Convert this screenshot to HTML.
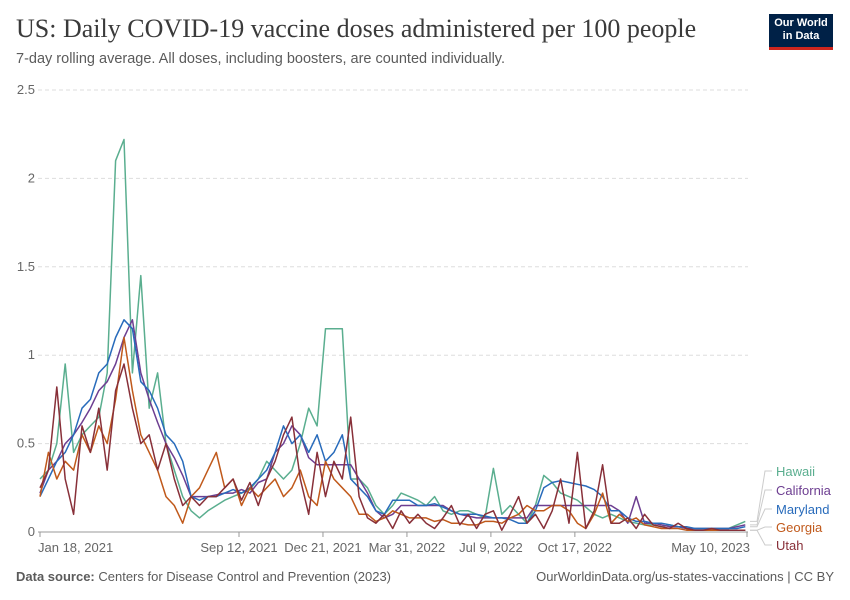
<!DOCTYPE html>
<html><head><meta charset="utf-8"><style>
body{margin:0;background:#fff;font-family:"Liberation Sans",sans-serif;}
#wrap{position:relative;width:850px;height:600px;overflow:hidden;}
.title{position:absolute;left:16px;top:14px;font-family:"Liberation Serif",serif;font-size:26px;color:#3a3a3a;}
.sub{position:absolute;left:16px;top:51px;font-size:14.5px;color:#5b5b5b;}
.logo{position:absolute;left:769px;top:14px;width:64px;height:36px;background:#002147;border-bottom:3px solid #ce261e;color:#fff;font-size:11px;font-weight:bold;text-align:center;line-height:13px;padding-top:3px;box-sizing:border-box;}
.foot{position:absolute;top:569px;font-size:13px;color:#5b5b5b;}
</style></head><body>
<div id="wrap">
<div class="title">US: Daily COVID-19 vaccine doses administered per 100 people</div>
<div class="sub">7-day rolling average. All doses, including boosters, are counted individually.</div>
<div class="logo">Our World<br>in Data</div>
<svg id="chart" width="850" height="600" style="position:absolute;left:0;top:0"></svg>
<div class="foot" style="left:16px"><b>Data source:</b> Centers for Disease Control and Prevention (2023)</div>
<div class="foot" style="right:16px">OurWorldinData.org/us-states-vaccinations | CC BY</div>
</div>
<script>
const days=[];for(let d=0;d<=840;d+=10)days.push(d);
const hawaii=[0.30,0.35,0.50,0.95,0.45,0.55,0.60,0.65,0.90,2.10,
2.22,0.90,1.45,0.70,0.90,0.50,0.35,0.20,0.12,0.08,
0.12,0.15,0.18,0.20,0.22,0.24,0.30,0.40,0.35,0.30,
0.35,0.50,0.70,0.60,1.15,1.15,1.15,0.30,0.30,0.25,
0.15,0.10,0.15,0.22,0.20,0.18,0.15,0.20,0.12,0.10,
0.12,0.12,0.10,0.08,0.36,0.10,0.15,0.10,0.05,0.15,
0.32,0.28,0.22,0.20,0.18,0.14,0.10,0.08,0.10,0.08,
0.06,0.05,0.04,0.04,0.03,0.04,0.03,0.02,0.02,0.02,
0.02,0.02,0.02,0.04,0.06];
const california=[0.22,0.35,0.40,0.50,0.55,0.62,0.70,0.80,0.85,0.95,
1.10,1.20,0.90,0.75,0.62,0.50,0.42,0.32,0.20,0.20,
0.20,0.21,0.22,0.22,0.24,0.22,0.28,0.30,0.45,0.50,
0.60,0.55,0.42,0.38,0.38,0.38,0.38,0.38,0.30,0.22,
0.12,0.08,0.10,0.15,0.15,0.15,0.15,0.15,0.15,0.12,
0.10,0.09,0.08,0.08,0.08,0.08,0.08,0.08,0.08,0.15,
0.15,0.15,0.15,0.15,0.15,0.15,0.15,0.15,0.15,0.12,
0.05,0.20,0.05,0.05,0.04,0.03,0.03,0.02,0.02,0.02,
0.02,0.02,0.02,0.03,0.04];
const maryland=[0.20,0.30,0.40,0.45,0.55,0.70,0.75,0.90,0.95,1.10,
1.20,1.15,0.85,0.80,0.70,0.55,0.50,0.40,0.20,0.18,
0.20,0.20,0.22,0.24,0.22,0.25,0.30,0.35,0.45,0.60,
0.50,0.55,0.45,0.55,0.40,0.45,0.55,0.30,0.25,0.20,
0.12,0.10,0.18,0.18,0.18,0.15,0.15,0.16,0.14,0.12,
0.10,0.10,0.10,0.09,0.08,0.08,0.07,0.05,0.05,0.12,
0.25,0.28,0.29,0.28,0.27,0.26,0.24,0.20,0.12,0.12,
0.08,0.06,0.06,0.05,0.05,0.04,0.03,0.03,0.02,0.02,
0.02,0.02,0.02,0.02,0.03];
const georgia=[0.20,0.45,0.30,0.40,0.35,0.55,0.45,0.60,0.50,0.75,
1.10,0.80,0.55,0.45,0.35,0.20,0.15,0.05,0.20,0.25,
0.35,0.45,0.25,0.30,0.15,0.25,0.20,0.25,0.30,0.20,
0.25,0.35,0.20,0.15,0.40,0.30,0.25,0.20,0.10,0.10,
0.06,0.08,0.12,0.10,0.08,0.08,0.08,0.06,0.07,0.05,
0.05,0.04,0.04,0.06,0.06,0.05,0.08,0.10,0.15,0.12,
0.12,0.15,0.15,0.12,0.05,0.02,0.10,0.22,0.05,0.10,
0.06,0.08,0.04,0.03,0.02,0.02,0.02,0.01,0.01,0.01,
0.01,0.01,0.01,0.01,0.01];
const utah=[0.25,0.35,0.82,0.30,0.10,0.60,0.45,0.70,0.35,0.80,
0.95,0.70,0.50,0.55,0.35,0.50,0.30,0.15,0.20,0.15,
0.20,0.20,0.25,0.30,0.18,0.28,0.15,0.30,0.40,0.55,
0.65,0.30,0.10,0.45,0.20,0.40,0.30,0.65,0.20,0.08,
0.05,0.10,0.02,0.12,0.05,0.10,0.05,0.02,0.08,0.15,
0.04,0.10,0.02,0.10,0.12,0.01,0.10,0.20,0.05,0.10,
0.02,0.12,0.30,0.05,0.45,0.02,0.12,0.38,0.05,0.05,
0.08,0.02,0.10,0.04,0.03,0.02,0.05,0.02,0.01,0.01,
0.02,0.01,0.01,0.01,0.01];
const yTicks=[0,0.5,1,1.5,2,2.5];
const yTickLabels=["0","0.5","1","1.5","2","2.5"];
const xTickDays=[0,237,337,437,537,637,842];
const xTickLabels=["Jan 18, 2021","Sep 12, 2021","Dec 21, 2021","Mar 31, 2022","Jul 9, 2022","Oct 17, 2022","May 10, 2023"];
const seriesNames=["Hawaii","California","Maryland","Georgia","Utah"];
const seriesColors=["#5aae8f","#6d3e91","#286bbb","#c0591b","#883039"];
const seriesData=[hawaii,california,maryland,georgia,utah];
const legendY=[476,495,514,532,550];

const NS="http://www.w3.org/2000/svg";
const svg=document.getElementById('chart');
const X0=40,X1=747,Y0=532,Y1=90;
const xs=d=>X0+d/842*(X1-X0);
const ys=v=>Y0-v/2.5*(Y0-Y1);
function mk(t,a){const e=document.createElementNS(NS,t);for(const k in a)e.setAttribute(k,a[k]);svg.appendChild(e);return e;}
yTicks.forEach((v,i)=>{
  if(v>0){const g=mk('line',{x1:38,x2:748,y1:ys(v),y2:ys(v),stroke:'#ddd','stroke-dasharray':'4,3'});
  
  }
  const t=mk('text',{x:35,y:ys(v)+4,'text-anchor':'end','font-size':13,fill:'#666','font-family':'Liberation Sans,sans-serif'});
  t.textContent=yTickLabels[i];
  
  
});
const ax=mk('line',{x1:38,x2:748,y1:Y0,y2:Y0,stroke:'#999'});


xTickDays.forEach((d,i)=>{
  const tk=mk('line',{x1:xs(d),x2:xs(d),y1:Y0,y2:Y0+5,stroke:'#999'});
  
  
  const anchor=i==0?'start':(i==xTickDays.length-1?'end':'middle');
  const t=mk('text',{x:i==0?38:(i==xTickDays.length-1?750:xs(d)),y:552,'text-anchor':anchor,'font-size':13,fill:'#666','font-family':'Liberation Sans,sans-serif'});
  t.textContent=xTickLabels[i];
  
  
});
seriesData.forEach((arr,si)=>{
  const pts=arr.map((v,i)=>xs(days[i]).toFixed(1)+','+ys(v).toFixed(1)).join(' ');
  const p=mk('polyline',{points:pts,fill:'none',stroke:seriesColors[si],'stroke-width':1.5,'stroke-linejoin':'round'});
  
  
  const last=arr[arr.length-1];
  const c=mk('polyline',{points:`${X1+3},${ys(last)} ${X1+10},${ys(last)} ${X1+18},${legendY[si]-5} ${X1+25},${legendY[si]-5}`,fill:'none',stroke:'#ccc','stroke-width':1});
  
  
  const t=mk('text',{x:776,y:legendY[si],'font-size':13,fill:seriesColors[si],'font-family':'Liberation Sans,sans-serif'});
  t.textContent=seriesNames[si];
  
  
});
</script>
</body></html>
